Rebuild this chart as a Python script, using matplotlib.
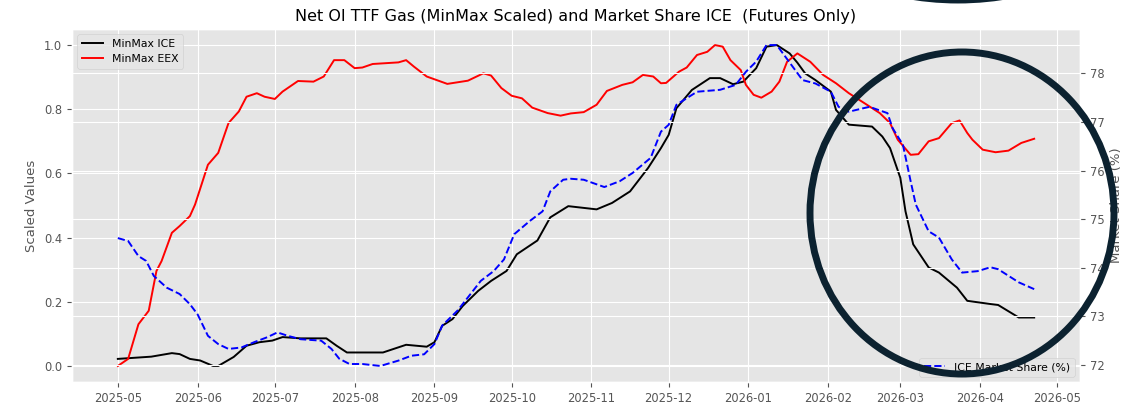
import matplotlib
matplotlib.use("Agg")
import matplotlib.pyplot as plt
import matplotlib.dates as mdates
from matplotlib.patches import Ellipse
import pandas as pd

plt.style.use("ggplot")

title = "Net OI TTF Gas (MinMax Scaled) and Market Share ICE  (Futures Only)"

ice_dates = ["2025-05-01", "2025-05-14", "2025-05-22", "2025-05-25", "2025-05-29", "2025-06-02",
             "2025-06-07", "2025-06-09", "2025-06-15", "2025-06-20", "2025-06-25", "2025-06-30",
             "2025-07-04", "2025-07-11", "2025-07-21", "2025-07-25", "2025-07-29", "2025-08-12",
             "2025-08-21", "2025-08-29", "2025-09-01", "2025-09-04", "2025-09-08", "2025-09-12",
             "2025-09-18", "2025-09-23", "2025-09-29", "2025-10-03", "2025-10-11", "2025-10-16",
             "2025-10-23", "2025-11-03", "2025-11-09", "2025-11-16", "2025-11-23", "2025-11-28",
             "2025-12-01", "2025-12-04", "2025-12-10", "2025-12-17", "2025-12-21", "2025-12-26",
             "2025-12-30", "2026-01-04", "2026-01-08", "2026-01-12", "2026-01-17", "2026-01-20",
             "2026-01-23", "2026-01-27", "2026-02-02", "2026-02-04", "2026-02-09", "2026-02-18",
             "2026-02-22", "2026-02-25", "2026-03-01", "2026-03-03", "2026-03-06", "2026-03-12",
             "2026-03-16", "2026-03-23", "2026-03-27", "2026-04-05", "2026-04-08", "2026-04-16",
             "2026-04-22"]
ice_vals = [0.022, 0.029, 0.040, 0.037, 0.022, 0.017,
            0.0, 0.0, 0.028, 0.063, 0.074, 0.079,
            0.090, 0.086, 0.086, 0.063, 0.042, 0.042,
            0.066, 0.060, 0.074, 0.125, 0.146, 0.187,
            0.234, 0.265, 0.296, 0.348, 0.391, 0.463,
            0.498, 0.488, 0.508, 0.544, 0.617, 0.679,
            0.720, 0.803, 0.860, 0.897, 0.897, 0.878,
            0.886, 0.928, 0.995, 1.0, 0.974, 0.945,
            0.912, 0.891, 0.855, 0.798, 0.752, 0.746,
            0.715, 0.679, 0.586, 0.482, 0.379, 0.307,
            0.291, 0.244, 0.203, 0.193, 0.190, 0.151,
            0.151]

eex_dates = ["2025-05-01", "2025-05-05", "2025-05-09", "2025-05-13", "2025-05-16", "2025-05-18",
             "2025-05-22", "2025-05-25", "2025-05-29", "2025-05-31", "2025-06-05", "2025-06-09",
             "2025-06-13", "2025-06-17", "2025-06-20", "2025-06-24", "2025-06-27", "2025-07-01",
             "2025-07-04", "2025-07-10", "2025-07-16", "2025-07-20", "2025-07-24", "2025-07-28",
             "2025-08-01", "2025-08-04", "2025-08-08", "2025-08-18", "2025-08-21", "2025-08-24",
             "2025-08-29", "2025-09-06", "2025-09-14", "2025-09-20", "2025-09-23", "2025-09-27",
             "2025-10-01", "2025-10-05", "2025-10-09", "2025-10-15", "2025-10-20", "2025-10-24",
             "2025-10-29", "2025-11-03", "2025-11-07", "2025-11-13", "2025-11-17", "2025-11-21",
             "2025-11-25", "2025-11-28", "2025-11-30", "2025-12-05", "2025-12-08", "2025-12-12",
             "2025-12-16", "2025-12-19", "2025-12-22", "2025-12-25", "2025-12-29", "2025-12-31",
             "2026-01-03", "2026-01-06", "2026-01-10", "2026-01-13", "2026-01-16", "2026-01-20",
             "2026-01-25", "2026-01-30", "2026-02-04", "2026-02-09", "2026-02-16", "2026-02-21",
             "2026-02-25", "2026-02-28", "2026-03-05", "2026-03-08", "2026-03-12", "2026-03-16",
             "2026-03-21", "2026-03-24", "2026-03-27", "2026-03-29", "2026-04-02", "2026-04-07",
             "2026-04-12", "2026-04-17", "2026-04-22"]
eex_vals = [0.0, 0.022, 0.130, 0.172, 0.296, 0.327,
            0.415, 0.436, 0.467, 0.503, 0.627, 0.664,
            0.757, 0.793, 0.839, 0.850, 0.839, 0.832,
            0.855, 0.888, 0.886, 0.902, 0.953, 0.953,
            0.928, 0.930, 0.941, 0.946, 0.953, 0.933,
            0.902, 0.879, 0.889, 0.912, 0.905, 0.866,
            0.842, 0.834, 0.805, 0.788, 0.780, 0.787,
            0.791, 0.814, 0.857, 0.876, 0.884, 0.907,
            0.902, 0.881, 0.882, 0.917, 0.930, 0.969,
            0.979, 1.0, 0.995, 0.953, 0.922, 0.876,
            0.845, 0.836, 0.855, 0.886, 0.948, 0.974,
            0.948, 0.907, 0.881, 0.850, 0.814, 0.788,
            0.757, 0.705, 0.658, 0.660, 0.700, 0.710,
            0.757, 0.765, 0.726, 0.705, 0.674, 0.666,
            0.671, 0.695, 0.708]

ms_dates = ["2025-05-01", "2025-05-05", "2025-05-09", "2025-05-12", "2025-05-15", "2025-05-20",
            "2025-05-25", "2025-05-29", "2025-06-01", "2025-06-05", "2025-06-09", "2025-06-13",
            "2025-06-18", "2025-06-23", "2025-06-28", "2025-07-02", "2025-07-06", "2025-07-11",
            "2025-07-19", "2025-07-23", "2025-07-26", "2025-07-30", "2025-08-04", "2025-08-11",
            "2025-08-18", "2025-08-23", "2025-08-28", "2025-09-01", "2025-09-04", "2025-09-10",
            "2025-09-14", "2025-09-19", "2025-09-24", "2025-09-28", "2025-10-02", "2025-10-08",
            "2025-10-13", "2025-10-16", "2025-10-21", "2025-10-24", "2025-10-29", "2025-11-06",
            "2025-11-12", "2025-11-17", "2025-11-24", "2025-11-28", "2025-12-01", "2025-12-04",
            "2025-12-09", "2025-12-12", "2025-12-21", "2025-12-27", "2025-12-31", "2026-01-04",
            "2026-01-08", "2026-01-12", "2026-01-17", "2026-01-22", "2026-01-27", "2026-02-02",
            "2026-02-05", "2026-02-09", "2026-02-17", "2026-02-24", "2026-02-26", "2026-03-02",
            "2026-03-05", "2026-03-07", "2026-03-12", "2026-03-16", "2026-03-21", "2026-03-25",
            "2026-03-31", "2026-04-05", "2026-04-08", "2026-04-16", "2026-04-22"]
ms_vals = [74.61, 74.55, 74.24, 74.14, 73.83, 73.59,
           73.46, 73.25, 73.04, 72.60, 72.43, 72.33,
           72.36, 72.47, 72.57, 72.67, 72.60, 72.53,
           72.50, 72.33, 72.13, 72.02, 72.02, 71.98,
           72.09, 72.19, 72.22, 72.43, 72.81, 73.12,
           73.39, 73.73, 73.93, 74.17, 74.69, 74.96,
           75.16, 75.57, 75.81, 75.83, 75.81, 75.66,
           75.78, 75.95, 76.26, 76.80, 76.94, 77.35,
           77.52, 77.62, 77.66, 77.76, 78.03, 78.24,
           78.58, 78.58, 78.22, 77.86, 77.79, 77.62,
           77.31, 77.21, 77.31, 77.18, 76.87, 76.53,
           75.78, 75.30, 74.75, 74.62, 74.17, 73.90,
           73.93, 74.01, 73.97, 73.70, 73.56]

fig = plt.figure(figsize=(11.27, 4.03), dpi=100)
ax = fig.add_subplot(111)
fig.subplots_adjust(left=0.0639, right=0.9583, bottom=0.0521, top=0.928)

ax.plot(pd.to_datetime(ice_dates), ice_vals, color="black", lw=1.4, label="MinMax ICE")
ax.plot(pd.to_datetime(eex_dates), eex_vals, color="red", lw=1.4, label="MinMax EEX")
ax.set_ylabel("Scaled Values", fontsize=9.5)
ax.tick_params(labelsize=8.3)
ax.legend(loc="upper left", fontsize=7.8)
ax.set_title(title, fontsize=11.5)

ax2 = ax.twinx()
ax2.plot(pd.to_datetime(ms_dates), ms_vals, color="blue", lw=1.4, ls="--",
         label="ICE Market Share (%)")
ax2.set_ylabel("Market Share (%)", fontsize=9.5)
ax2.tick_params(labelsize=8.3)
ax2.legend(loc="lower right", fontsize=7.8)

ax.xaxis.set_major_locator(mdates.MonthLocator())
ax.xaxis.set_major_formatter(mdates.DateFormatter("%Y-%m"))

# hand-drawn annotation circles
fig.add_artist(Ellipse((962 / 1127, 1 - 213 / 403), 304 / 1127, 322 / 403,
                       transform=fig.transFigure, fill=False, ec="#0c2230", lw=5.0,
                       clip_on=False))
fig.add_artist(Ellipse((958 / 1127, 1 + 290 / 403), 580 / 1127, 580 / 403,
                       transform=fig.transFigure, fill=False, ec="#0c2230", lw=5.0,
                       clip_on=False))

fig.savefig("out.png", dpi=100)
